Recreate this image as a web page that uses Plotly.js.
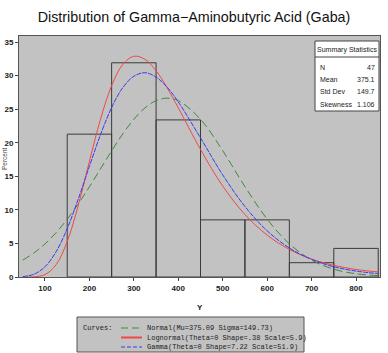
<!DOCTYPE html>
<html>
<head>
<meta charset="utf-8">
<script src="https://cdn.plot.ly/plotly-3.0.1.min.js"></script>
<style>html,body{margin:0;padding:0;background:#fff;}#chart{width:388px;height:353px;}</style>
</head>
<body>
<div id="chart"></div>
<script>
// Histogram bins (midpoints) and percent per bin
const binMid = [200, 300, 400, 500, 600, 700, 800];
const binPct = [21.28, 31.91, 23.40, 8.51, 8.51, 2.13, 4.26];

// Fitted density curves (percent scale)
const curveX = [50,75,100,125,150,175,200,225,250,275,300,325,350,375,400,450,500,550,600,650,700,750,800,850];
const normalY = [2.52,3.58,4.93,6.60,8.61,10.91,13.44,16.12,18.79,21.31,23.49,25.19,26.27,26.64,26.27,23.50,18.81,13.46,8.62,4.94,2.53,1.16,0.48,0.20];
const lognormY = [0.00,0.03,0.36,1.83,5.28,10.72,17.23,23.51,28.51,31.65,32.88,32.43,30.72,28.18,25.20,19.00,13.55,9.31,6.24,4.11,2.68,1.74,1.12,0.75];
const gammaY = [0.05,0.41,1.52,3.76,7.22,11.64,16.50,21.21,25.24,28.21,29.90,30.43,29.78,28.27,26.08,20.72,15.21,10.51,6.88,4.32,2.62,1.53,0.88,0.50];

const xTicks = [100,200,300,400,500,600,700,800];
const yTicks = [0,5,10,15,20,25,30,35];

const statLabels = ['N','Mean','Std Dev','Skewness'];
const statValues = ['47','375.1','149.7','1.106'];
const curveLabels = ['Normal(Mu=375.09 Sigma=149.73)','Lognormal(Theta=0 Shape=.38 Scale=5.9)','Gamma(Theta=0 Shape=7.22 Scale=51.9)'];

const cGreen = '#3c8a3c', cRed = '#f04848', cBlue = '#3a3aee';

// pixel -> paper helpers (plot area 19..380 x, 36..277 y)
const L = 19, R = 380, T = 36, B = 277;
const px = x => (x - L) / (R - L);
const py = y => (B - y) / (B - T);

const traces = [
  {type:'bar', x:binMid, y:binPct, width:100, marker:{color:'rgba(0,0,0,0)', line:{color:'#3a3a3a', width:1}}, hoverinfo:'skip', showlegend:false},
  {type:'scatter', mode:'lines', x:curveX, y:normalY, line:{color:cGreen, width:1, dash:'8px,4px', shape:'spline'}, showlegend:false},
  {type:'scatter', mode:'lines', x:curveX, y:lognormY, line:{color:cRed, width:1, shape:'spline'}, showlegend:false},
  {type:'scatter', mode:'lines', x:curveX, y:gammaY, line:{color:cBlue, width:1, dash:'5px,1px', shape:'spline'}, showlegend:false}
];

const tickFont = {family:'"Liberation Sans", Arial, sans-serif', size:8, color:'#222', weight:'bold'};
const smallFont = {family:'"Liberation Sans", Arial, sans-serif', size:7, color:'#222'};
const monoFont = {family:'"Liberation Mono", "DejaVu Sans Mono", monospace', size:7, color:'#222'};

const annotations = [];
const shapes = [];

// Summary statistics inset
shapes.push({type:'rect', xref:'paper', yref:'paper', x0:px(315), x1:px(379), y0:py(111), y1:py(41), fillcolor:'#ffffff', line:{color:'#444', width:1}, layer:'above'});
shapes.push({type:'line', xref:'paper', yref:'paper', x0:px(315), x1:px(379), y0:py(57), y1:py(57), line:{color:'#444', width:1}, layer:'above'});
annotations.push({xref:'paper', yref:'paper', x:px(347), y:py(49.5), text:'Summary Statistics', showarrow:false, xanchor:'center', yanchor:'middle', font:smallFont});
const rowY = [67, 79, 91, 104];
statLabels.forEach((s,i) => {
  annotations.push({xref:'paper', yref:'paper', x:px(318), y:py(rowY[i]), text:s, showarrow:false, xanchor:'left', yanchor:'middle', font:smallFont});
  annotations.push({xref:'paper', yref:'paper', x:px(377), y:py(rowY[i]), text:statValues[i], showarrow:false, xanchor:'right', yanchor:'middle', font:smallFont});
});

// Curves legend box
shapes.push({type:'rect', xref:'paper', yref:'paper', x0:px(77), x1:px(304), y0:py(352), y1:py(317), fillcolor:'#c2c2c2', line:{color:'#555', width:1}});
annotations.push({xref:'paper', yref:'paper', x:px(81), y:py(328), text:'Curves:', showarrow:false, xanchor:'left', yanchor:'middle', font:monoFont});
const legY = [328, 337.5, 347];
const legColors = [cGreen, cRed, cBlue];
const legDash = ['7px,4px', 'solid', '4px,2px'];
curveLabels.forEach((s,i) => {
  shapes.push({type:'line', xref:'paper', yref:'paper', x0:px(121), x1:px(142), y0:py(legY[i]), y1:py(legY[i]), line:{color:legColors[i], width:i===1?2:1, dash:legDash[i]}});
  annotations.push({xref:'paper', yref:'paper', x:px(145), y:py(legY[i]), text:s, showarrow:false, xanchor:'left', yanchor:'middle', font:monoFont});
});

// Axis titles
annotations.push({xref:'paper', yref:'paper', x:px(200), y:py(307), text:'Y', showarrow:false, xanchor:'center', yanchor:'middle', font:tickFont});
annotations.push({xref:'paper', yref:'paper', x:px(4), y:py(159), text:'Percent', textangle:-90, showarrow:false, xanchor:'center', yanchor:'middle', font:{family:'"Liberation Sans", sans-serif', size:6.5, color:'#444'}});

const layout = {
  width:388, height:353,
  margin:{l:L, r:388-R, t:T, b:353-B, pad:0},
  paper_bgcolor:'#ffffff',
  plot_bgcolor:'#c2c2c2',
  title:{text:'Distribution of Gamma\u2212Aminobutyric Acid (Gaba)', font:{family:'"Liberation Sans", Arial, sans-serif', size:14.3, color:'#111'}, x:0.5, xanchor:'center', y:1-17/353, yanchor:'middle', yref:'container'},
  xaxis:{range:[41.5,854], tickvals:xTicks, ticktext:xTicks.map(String), ticks:'outside', ticklen:3, tickcolor:'#444', showgrid:false, zeroline:false, showline:true, linecolor:'#555', linewidth:1, mirror:true, tickfont:tickFont},
  yaxis:{range:[0,35.9], tickvals:yTicks, ticktext:yTicks.map(String), ticks:'outside', ticklen:3, tickcolor:'#444', showgrid:false, zeroline:false, showline:true, linecolor:'#555', linewidth:1, mirror:true, tickfont:tickFont},
  bargap:0,
  showlegend:false,
  shapes:shapes,
  annotations:annotations
};

Plotly.newPlot('chart', traces, layout, {displayModeBar:false, staticPlot:true});
</script>
</body>
</html>
